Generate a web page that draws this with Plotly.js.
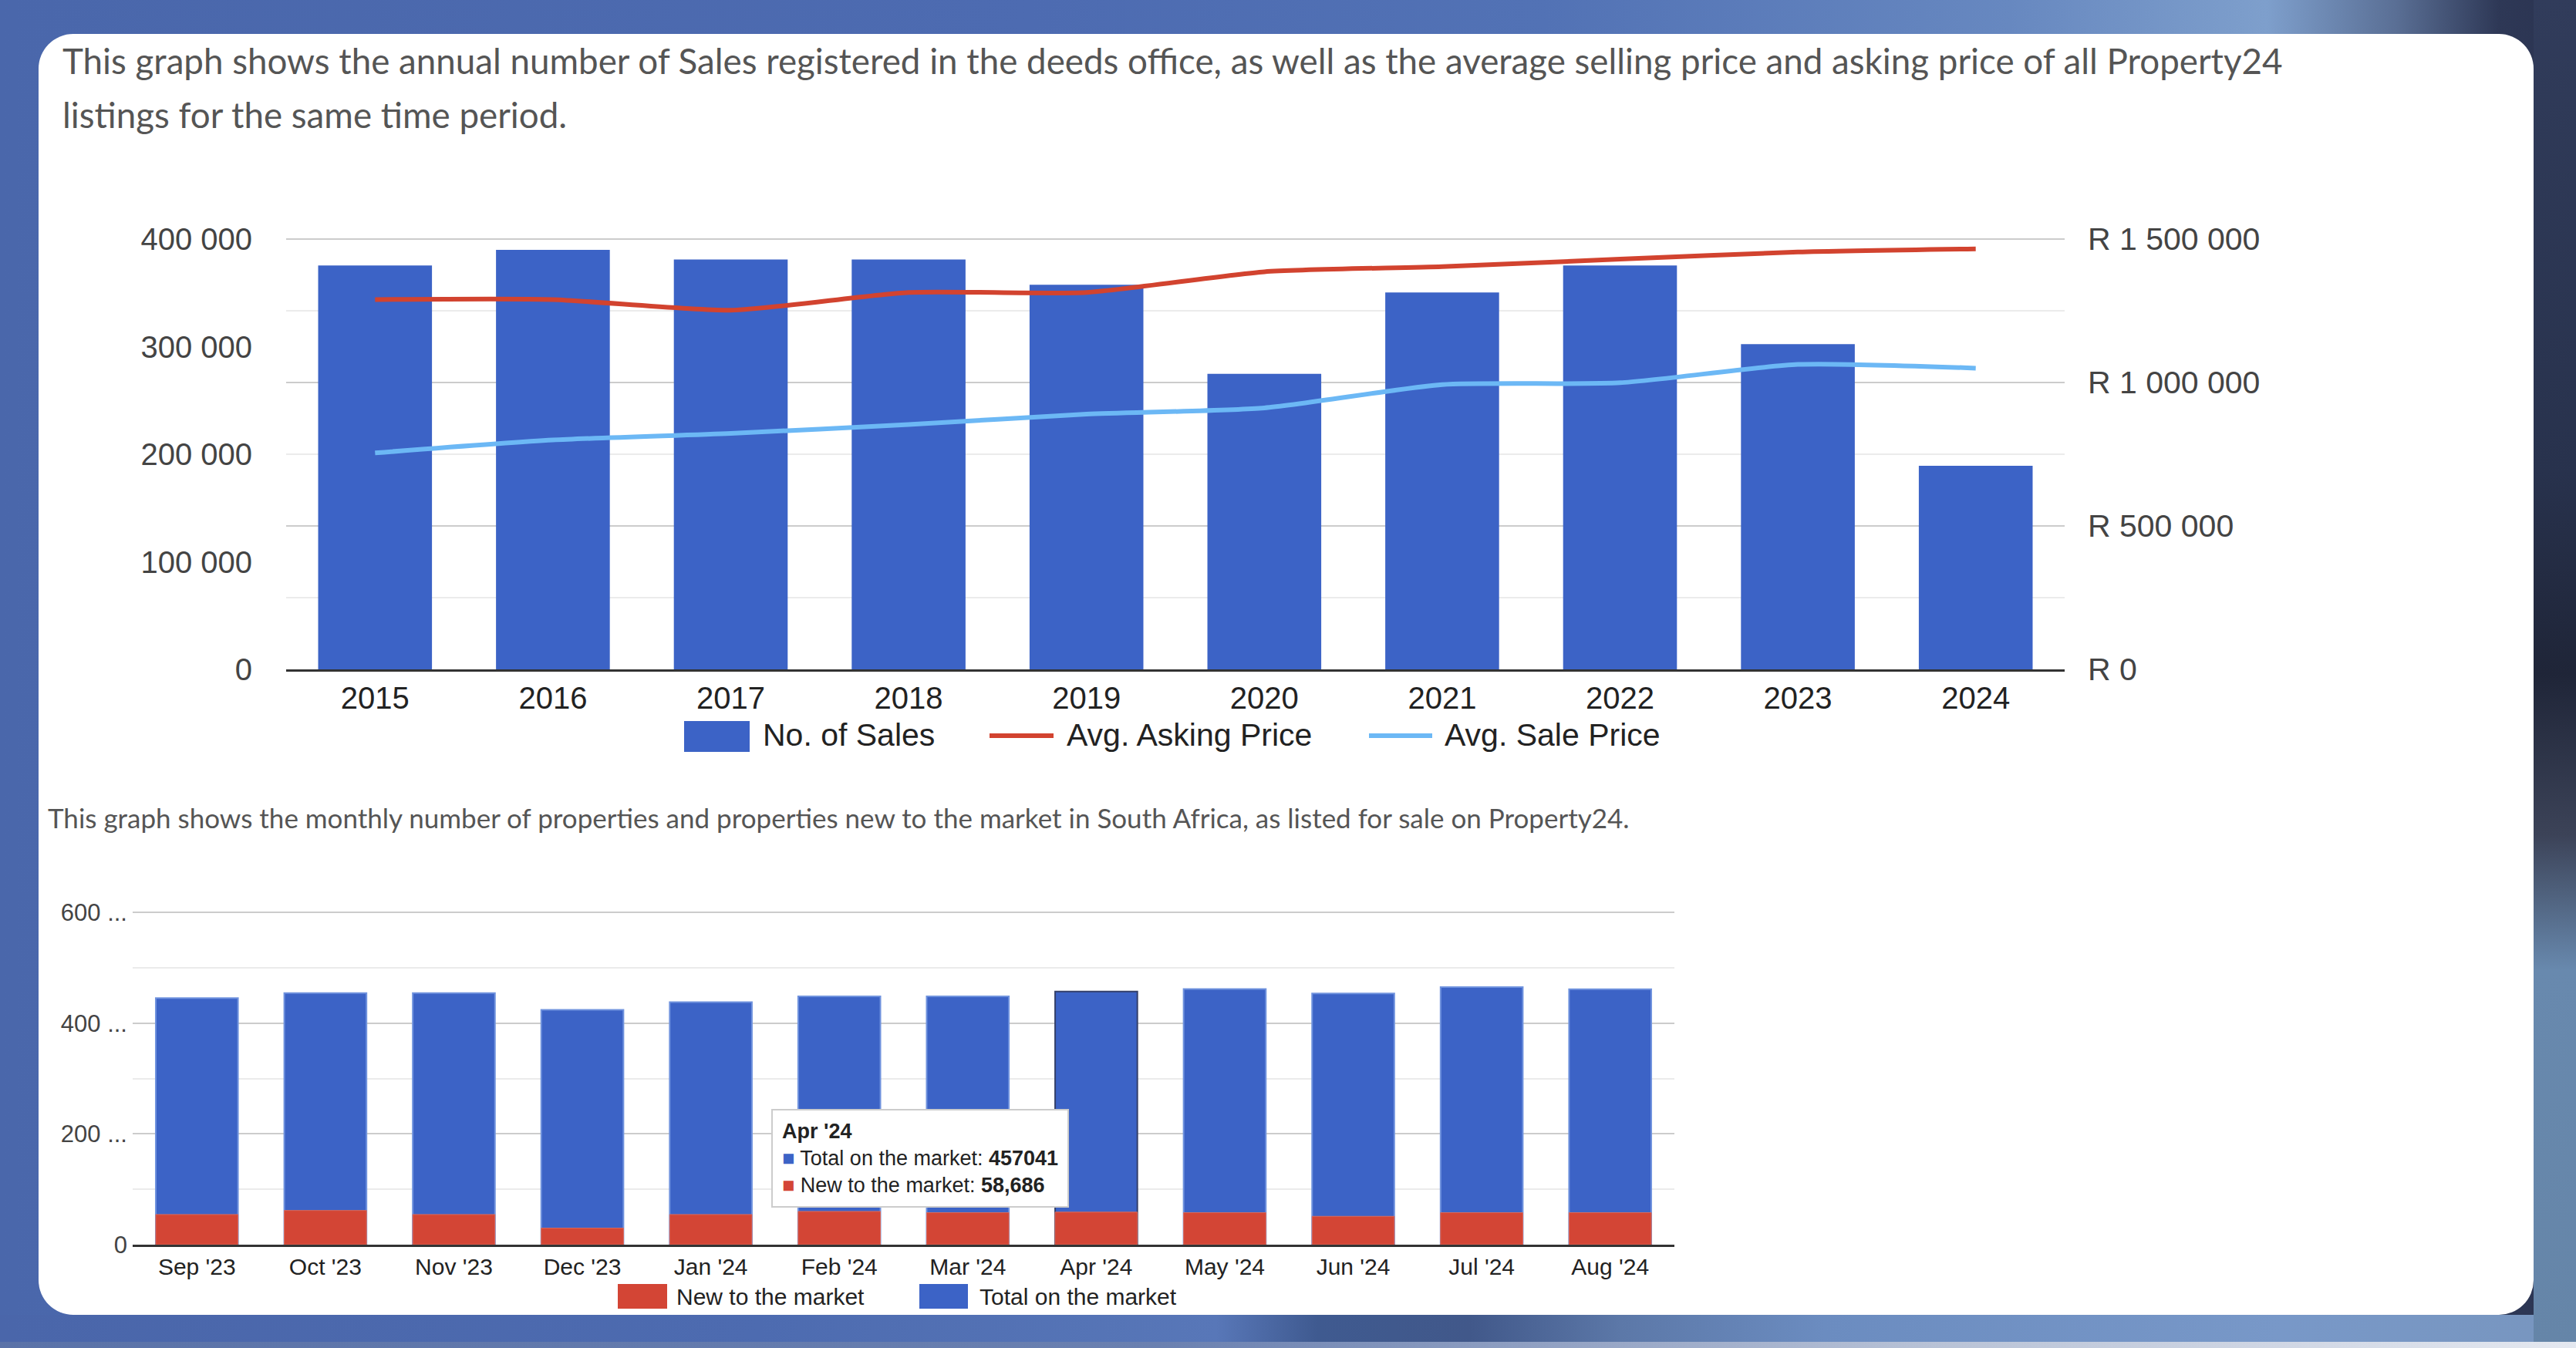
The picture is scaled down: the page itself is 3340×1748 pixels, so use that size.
<!DOCTYPE html>
<html>
<head>
<meta charset="utf-8">
<script src="https://cdn.plot.ly/plotly-3.0.1.min.js"></script>
<style>
  html, body { margin:0; padding:0; }
  body { width:3340px; height:1748px; overflow:hidden; position:relative;
    background: linear-gradient(to right, #4a67ab 0%, #4d6bb1 40%, #5272b5 60%, #6788c0 78%, #7e9fcc 88%, #5a6f95 93%, #2e3856 97%, #2a3350 100%); }
  #rightstrip { position:absolute; left:3285px; top:0; width:55px; height:1748px;
    background: linear-gradient(to bottom, #313c5b 0%, #28324d 35%, #1f2538 50%, #3c4358 62%, #6889ae 72%, #6585a8 100%); }
  #bottomstrip { position:absolute; left:0; top:1705px; width:3285px; height:43px;
    background: linear-gradient(to right, #4a66aa 0%, #4d6bb0 30%, #5877b8 48%, #3f5a90 52%, #41588a 58%, #5c78a8 64%, #6b8cc0 72%, #7898c8 90%, #7896c0 100%); }
  #bottomline { position:absolute; left:0; top:1740px; width:3340px; height:8px;
    background: linear-gradient(to right, #5a72a8 0%, #6a80b0 45%, #b8c2d6 75%, #e4e8f0 100%); }
  #card { position:absolute; left:50px; top:44px; width:3235px; height:1661px; background:#ffffff; border-radius:45px; }
  .desc { position:absolute; color:#555555; font-family:Lato, "Open Sans", sans-serif; white-space:nowrap; line-height:1.2; }
  #plot { position:absolute; left:0; top:0; width:3340px; height:1748px; }
</style>
</head>
<body>
<div id="rightstrip"></div>
<div id="bottomstrip"></div>
<div id="bottomline"></div>
<div id="card"></div>
<div class="desc" id="t1a"></div>
<div class="desc" id="t1b"></div>
<div class="desc" id="t2"></div>
<div id="plot"></div>
<script>
// ---------- DATA ----------
const years = ['2015','2016','2017','2018','2019','2020','2021','2022','2023','2024'];
const salesCount = [375400, 390000, 381000, 381000, 357600, 274700, 350400, 375400, 302400, 189200];
const askingPrice = [1289000, 1289000, 1252000, 1314000, 1314000, 1386000, 1404000, 1430000, 1455000, 1466000];
const salePrice = [754600, 799500, 822600, 853500, 889500, 911300, 992500, 999000, 1063000, 1050000];

const months = ["Sep '23","Oct '23","Nov '23","Dec '23","Jan '24","Feb '24","Mar '24","Apr '24","May '24","Jun '24","Jul '24","Aug '24"];
const totalOnMarket = [445000, 454300, 454300, 423800, 437700, 448300, 448300, 457041, 461600, 453600, 465000, 461000];
const newToMarket = [54400, 61700, 54400, 29800, 54400, 60000, 57800, 58686, 57800, 51100, 57800, 57800];
const stockTickVals = [0, 200000, 400000, 600000];
const stockTickText = ['0', '200 ...', '400 ...', '600 ...'];
const tooltipMonth = "Apr '24";

const text1Line1 = 'This graph shows the annual number of Sales registered in the deeds office, as well as the average selling price and asking price of all Property24';
const text1Line2 = 'listings for the same time period.';
const text2 = 'This graph shows the monthly number of properties and properties new to the market in South Africa, as listed for sale on Property24.';

// ---------- DESCRIPTION TEXT ----------
const ctx = document.createElement('canvas').getContext('2d');
function fitSize(text, target, fam) { ctx.font = '100px ' + fam; return 100 * target / ctx.measureText(text).width; }
const fam = 'Lato';
const s1 = fitSize(text1Line1, 2883, fam);
const s2 = fitSize(text2, 2056, fam);
function place(id, text, left, baseline, size) {
  const el = document.getElementById(id);
  el.textContent = text;
  el.style.fontSize = size + 'px';
  el.style.left = left + 'px';
  el.style.top = (baseline - 0.987 * size) + 'px';
}
place('t1a', text1Line1, 81, 97, s1);
place('t1b', text1Line2, 81, 167, s1);
place('t2', text2, 62, 1074, s2);

// ---------- PLOT ----------
const W = 3340, H = 1748;
const fx = x => x / W;
const fy = y => 1 - y / H;
const BLUE = '#3c63c6', RED = '#d2432f', LBLUE = '#6cb8f5', BARRED = '#d34535';
const AX = 'Liberation Sans, Arial, sans-serif';

// plot areas in pixels; a few pixels of headroom keep the top gridline unclipped
const PAD = 4;
const c1 = { left:371, right:2677, top:310, bottom:868 };
const c2 = { left:172, right:2171, top:1183, bottom:1614 };
const head1 = (c1.bottom - c1.top + PAD) / (c1.bottom - c1.top);
const head2 = (c2.bottom - c2.top + PAD) / (c2.bottom - c2.top);

const apr = months.indexOf(tooltipMonth);
const blueLines = months.map((m, i) => i === apr ? '#34406a' : '#7093de');

const traces = [
  { type:'bar', name:'No. of Sales', x: years, y: salesCount, xaxis:'x', yaxis:'y',
    marker:{ color: BLUE }, hoverinfo:'skip' },
  { type:'scatter', mode:'lines', name:'Avg. Asking Price', x: years, y: askingPrice, xaxis:'x', yaxis:'y2',
    line:{ color: RED, width:6, shape:'spline', smoothing:0.6 }, hoverinfo:'skip' },
  { type:'scatter', mode:'lines', name:'Avg. Sale Price', x: years, y: salePrice, xaxis:'x', yaxis:'y2',
    line:{ color: LBLUE, width:6, shape:'spline', smoothing:0.6 }, hoverinfo:'skip' },
  { type:'bar', name:'Total on the market', x: months, y: totalOnMarket, xaxis:'x2', yaxis:'y3',
    marker:{ color: BLUE, line:{ color: blueLines, width:2 } }, hoverinfo:'skip' },
  { type:'bar', name:'New to the market', x: months, y: newToMarket, xaxis:'x2', yaxis:'y3',
    marker:{ color: BARRED, line:{ color:'#dc6a5a', width:1 } }, hoverinfo:'skip' }
];

function legendBox(x0, x1, y0, y1, color) {
  return { type:'rect', xref:'paper', yref:'paper', x0: fx(x0), x1: fx(x1), y0: fy(y1), y1: fy(y0),
    fillcolor: color, line:{ width:0 } };
}
function legendLine(x0, x1, y, color) {
  return { type:'line', xref:'paper', yref:'paper', x0: fx(x0), x1: fx(x1), y0: fy(y), y1: fy(y),
    line:{ color: color, width:6 } };
}
function legendText(x, y, text, size) {
  return { xref:'paper', yref:'paper', x: fx(x), y: fy(y), xanchor:'left', yanchor:'middle',
    text: text, showarrow:false, font:{ family: AX, size: size, color:'#222222' } };
}

const tip = '<b>' + tooltipMonth + '</b><br>' +
  '<span style="color:' + BLUE + '">■</span> Total on the market: <b>' + String(totalOnMarket[apr]) + '</b><br>' +
  '<span style="color:' + BARRED + '">■</span> New to the market: <b>' + newToMarket[apr].toLocaleString('en-US') + '</b>';

const layout = {
  width: W, height: H, autosize:false,
  margin:{ l:0, r:0, t:0, b:0, pad:0 },
  paper_bgcolor:'rgba(0,0,0,0)', plot_bgcolor:'rgba(0,0,0,0)',
  showlegend:false, separators:'. ', barmode:'overlay', bargap:0.36,
  font:{ family: AX, color:'#222222' },
  xaxis:{ domain:[fx(c1.left), fx(c1.right)], anchor:'y', type:'category', showline:true, linecolor:'#333333', linewidth:3,
    ticks:'', showgrid:false, zeroline:false, tickfont:{ size:40, color:'#222222' }, fixedrange:true },
  yaxis:{ domain:[fy(c1.bottom), fy(c1.top - PAD)], anchor:'x', range:[0, 400000 * head1], dtick:100000, tick0:0, tickformat:',d',
    showgrid:false, zeroline:false, ticks:'', tickfont:{ size:40, color:'#444444' }, ticklabelstandoff:43, fixedrange:true },
  yaxis2:{ overlaying:'y', side:'right', anchor:'x', range:[0, 1500000 * head1], dtick:500000, tick0:0, tickformat:',d',
    tickprefix:'R ', showgrid:true, gridcolor:'#cccccc', gridwidth:2, zeroline:false, ticks:'',
    minor:{ dtick:250000, tick0:0, showgrid:true, gridcolor:'#ebebeb', gridwidth:2 },
    tickfont:{ size:41, color:'#444444' }, ticklabelstandoff:29, fixedrange:true },
  xaxis2:{ domain:[fx(c2.left), fx(c2.right)], anchor:'y3', type:'category', showline:true, linecolor:'#333333', linewidth:3,
    ticks:'', showgrid:false, zeroline:false, tickfont:{ size:30, color:'#222222' }, fixedrange:true },
  yaxis3:{ domain:[fy(c2.bottom), fy(c2.top - PAD)], anchor:'x2', range:[0, 600000 * head2], tickmode:'array',
    tickvals: stockTickVals, ticktext: stockTickText, showgrid:true, gridcolor:'#cccccc', gridwidth:2, zeroline:false,
    minor:{ tickmode:'linear', tick0:0, dtick:100000, showgrid:true, gridcolor:'#ebebeb', gridwidth:2 },
    ticks:'', tickfont:{ size:31, color:'#444444' }, ticklabelstandoff:6, fixedrange:true },
  shapes:[
    legendBox(887, 972, 935, 975, BLUE),
    legendLine(1283, 1366, 954, RED),
    legendLine(1775, 1857, 954, LBLUE),
    legendBox(801, 865, 1665, 1697, BARRED),
    legendBox(1192, 1255, 1665, 1697, BLUE)
  ],
  annotations:[
    legendText(987, 953, 'No. of Sales', 41),
    legendText(1381, 953, 'Avg. Asking Price', 41),
    legendText(1871, 953, 'Avg. Sale Price', 41),
    legendText(875, 1681, 'New to the market', 30),
    legendText(1268, 1681, 'Total on the market', 30),
    { xref:'paper', yref:'paper', x: fx(1000), y: fy(1438), xanchor:'left', yanchor:'top', align:'left',
      text: tip, showarrow:false, bgcolor:'#ffffff', bordercolor:'#cccccc', borderwidth:2, borderpad:12,
      font:{ family: AX, size:27, color:'#222222' } }
  ]
};

Plotly.newPlot('plot', traces, layout, { staticPlot:true, displayModeBar:false });
</script>
</body>
</html>
